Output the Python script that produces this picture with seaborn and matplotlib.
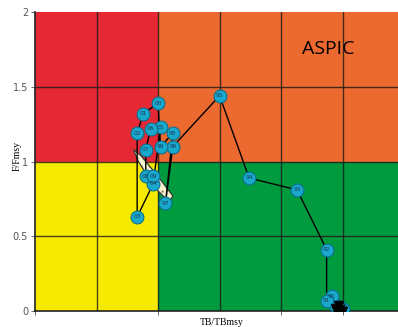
import seaborn as sns
import pandas as pd
import matplotlib.pyplot as plt

# trajectory (TB/TBmsy, F/Fmsy)
years = ['86', '87', '88', '89', '90', '91', '92', '93', '94', '95', '96', '97', '98',
         '99', '00', '01', '02', '03', '04', '05', '06', '07', '08', '09']
tb = [2.50, 2.48, 2.46, 2.44, 2.41, 2.37, 2.37, 2.13, 1.74, 1.50, 1.12, 1.06, 1.12,
      1.02, 1.00, 0.88, 0.83, 0.83, 0.96, 1.02, 0.94, 0.90, 0.90, 0.96]
f = [0.01, 0.02, 0.03, 0.04, 0.10, 0.07, 0.41, 0.81, 0.89, 1.44, 1.10, 0.72, 1.19,
     1.10, 1.39, 1.32, 1.19, 0.63, 0.85, 1.23, 1.22, 1.08, 0.90, 0.90]
labelled = years[4:]

# uncertainty region around the last year
hull_x = [0.80, 0.86, 1.00, 1.12, 1.09, 0.98, 0.84]
hull_y = [1.08, 1.04, 0.90, 0.77, 0.73, 0.82, 1.00]

# black arrow cluster at start of the series
early_x = [2.44, 2.46, 2.48, 2.50, 2.47, 2.45]
early_y = [0.02, 0.04, 0.01, 0.00, 0.03, 0.00]

df = pd.DataFrame({'year': years, 'TB': tb, 'F': f})

plt.rcParams['hatch.linewidth'] = 0.4
fig = plt.figure(figsize=(3.98, 3.27), dpi=100)
ax = fig.add_axes([0.088, 0.049, 0.912, 0.914])

# Kobe quadrants
ax.axvspan(0, 1, ymin=0.5, ymax=1, color='#e52833', lw=0)
ax.axvspan(1, 3, ymin=0.5, ymax=1, color='#ec6a2f', lw=0)
ax.axvspan(0, 1, ymin=0, ymax=0.5, color='#f6ea00', lw=0)
ax.axvspan(1, 3, ymin=0, ymax=0.5, color='#009a3f', lw=0)
for v in [0.5, 1, 1.5, 2, 2.5]:
    ax.axvline(v, color='#1a1a1a', lw=1, alpha=0.8)
for h in [0.5, 1, 1.5]:
    ax.axhline(h, color='#1a1a1a', lw=1, alpha=0.8)

ax.fill(hull_x, hull_y, facecolor='#f6f3cc', edgecolor='#8a8a70', lw=0.6,
        hatch='..', zorder=3)
ax.fill(hull_x, hull_y, facecolor='none', edgecolor='#333333', lw=0.8, zorder=3)

sns.lineplot(data=df, x='TB', y='F', sort=False, estimator=None, errorbar=None,
             color='black', lw=1, ax=ax, zorder=4)
sns.scatterplot(data=df, x='TB', y='F', color='#19a9cc', edgecolor='#0b6f8f', s=85,
                linewidth=0.8, ax=ax, zorder=5)
sns.scatterplot(x=early_x, y=early_y, marker='v', color='black', s=40, ax=ax, zorder=6,
                edgecolor='black')
for _, r in df.iterrows():
    if r['year'] in labelled:
        ax.text(r['TB'], r['F'], r['year'], ha='center', va='center', fontsize=4.2,
                color='#1a3a5a', zorder=7)

ax.text(2.17, 1.75, 'ASPIC', fontsize=14, ha='left', va='center', family='Open Sans')

ax.set_xlim(0, 2.95)
ax.set_ylim(0, 2)
ax.set_xticks([0, 1, 2, 2.5])
ax.set_xticklabels([])
ax.set_yticks([0, 0.5, 1, 1.5, 2])
ax.set_yticklabels(['0', '0.5', '1', '1.5', '2'], fontsize=7, color='#555555')
ax.tick_params(axis='both', length=3, width=0.6, colors='#555555', pad=2)
for s in ['top', 'right']:
    ax.spines[s].set_visible(False)
for s in ['left', 'bottom']:
    ax.spines[s].set_linewidth(1.2)
    ax.spines[s].set_color('#222222')

ax.set_xlabel('TB/TBmsy', family='Liberation Serif', fontsize=7)
ax.set_ylabel('F/Fmsy', family='Liberation Serif', fontsize=7)
ax.xaxis.set_label_coords(0.515, -0.022)
ax.yaxis.set_label_coords(-0.038, 0.52)

fig.savefig('out.png', dpi=100)
